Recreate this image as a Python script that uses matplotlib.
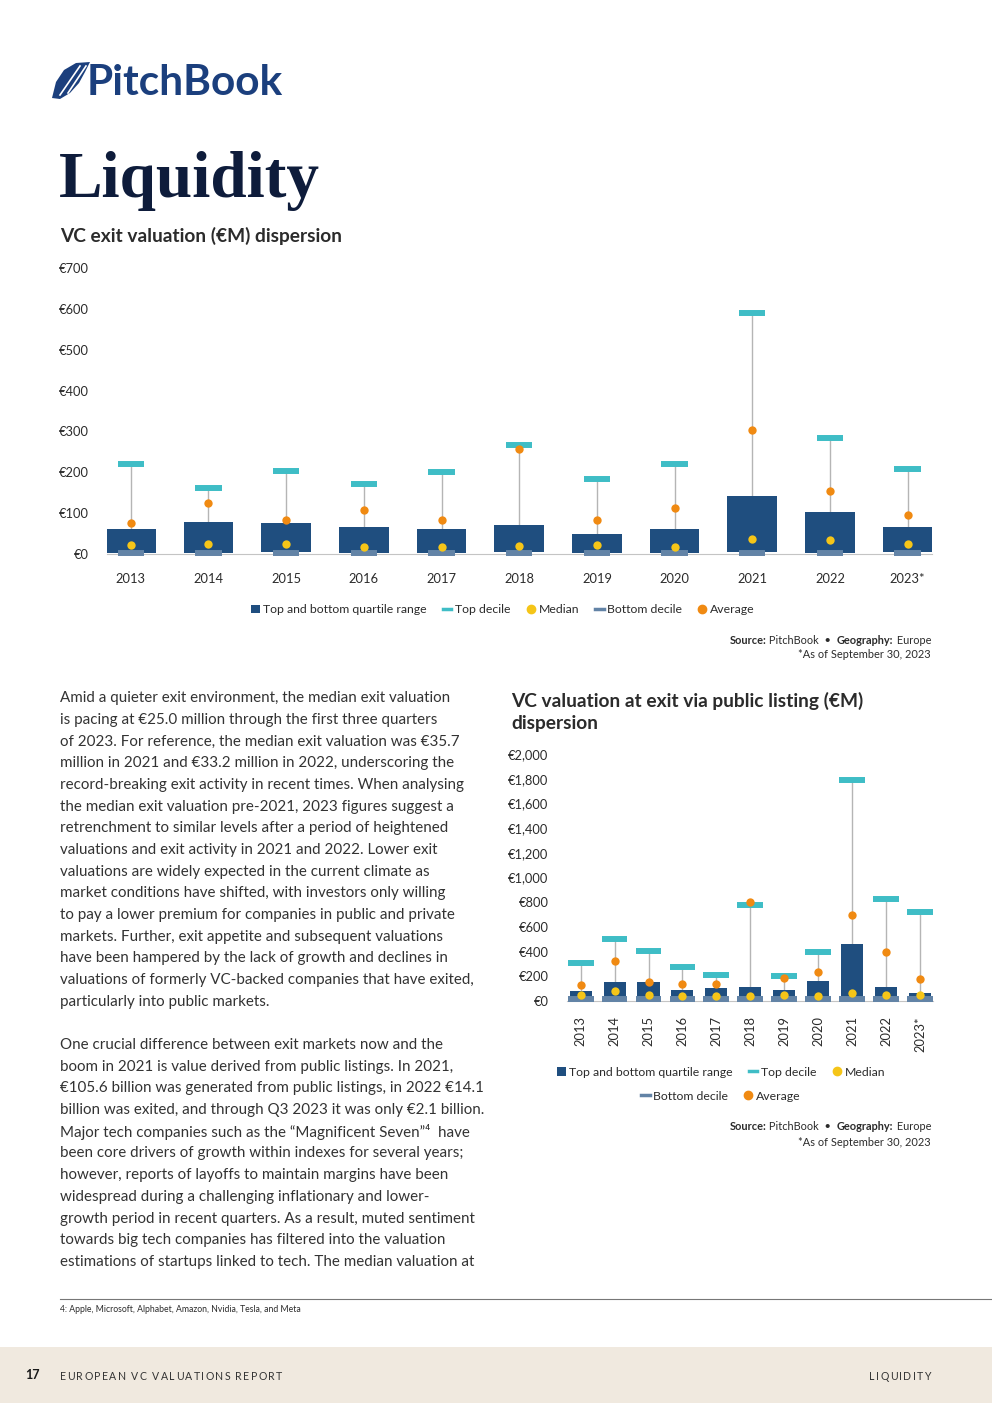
import matplotlib
matplotlib.use("Agg")
import matplotlib.pyplot as plt
from matplotlib.patches import Rectangle, Polygon, Patch
from matplotlib.lines import Line2D
import numpy as np

plt.rcParams['font.family'] = ['Lato', 'DejaVu Sans']

# ---- data: VC exit valuation (EUR M) dispersion ----
years = ['2013', '2014', '2015', '2016', '2017', '2018', '2019', '2020', '2021', '2022', '2023*']
exit_q1 = [3, 3, 6, 3, 3, 6, 3, 3, 6, 3, 6]
exit_q3 = [61, 78, 76, 66, 61, 71, 49, 61, 142, 103, 66]
exit_top_decile = [221, 162, 204, 172, 200, 268, 184, 221, 591, 284, 208]
exit_bottom_decile = [2, 2, 2, 2, 2, 2, 2, 2, 2, 2, 2]
exit_median = [21, 25, 25, 17, 17, 20, 21, 17, 35.7, 33.2, 25.0]
exit_average = [75, 126, 83, 108, 83, 258, 83, 113, 304, 155, 95]

# ---- data: VC valuation at exit via public listing (EUR M) dispersion ----
ipo_q1 = [25, 25, 25, 25, 25, 25, 25, 25, 25, 25, 25]
ipo_q3 = [81, 154, 154, 89, 105, 113, 89, 162, 462, 113, 65]
ipo_top_decile = [310, 502, 408, 275, 213, 780, 202, 397, 1792, 829, 718]
ipo_bottom_decile = [17, 17, 17, 17, 17, 17, 17, 17, 17, 17, 17]
ipo_median = [49, 78, 49, 38, 38, 38, 49, 38, 67, 49, 49]
ipo_average = [127, 321, 151, 140, 140, 804, 189, 235, 694, 394, 175]

exit_ticks = [0, 100, 200, 300, 400, 500, 600, 700]
ipo_ticks = list(range(0, 2001, 200))

BOX = '#1f4e7f'
TEAL = '#3fbdc6'
YELLOW = '#f5c518'
ORANGE = '#f08a12'
BOTDEC = '#6283a6'
WHISK = '#b5b5b5'
TXT = '#2b2b2b'

W, H = 992, 1403
fig = plt.figure(figsize=(W / 100, H / 100), dpi=100)
renderer = fig.canvas.get_renderer()


def fx(px):
    return px / W


def fy(py):
    return 1 - py / H


def text_width(t):
    return t.get_window_extent(renderer).width


def run_right(xr, yy, parts, **kw):
    # parts drawn right to left so the row ends at xr
    x = xr
    for s, weight in reversed(parts):
        t = fig.text(fx(x), fy(yy), s, ha='right', va='center', fontweight=weight, **kw)
        x -= text_width(t)


def tracked(x0, yy, s, track, align='left', **kw):
    # letter-spaced caps, one glyph at a time
    ts = [fig.text(0, fy(yy), c, ha='left', va='center', **kw) for c in s]
    ws = [text_width(t) for t in ts]
    total = sum(ws) + track * (len(s) - 1)
    x = x0 if align == 'left' else x0 - total
    for t, w in zip(ts, ws):
        t.set_x(fx(x))
        x += w + track


def dispersion(ax, q1, q3, top, bot, med, avg, ticks, ylim, xlim, box_w, mark_w, rot):
    x = np.arange(len(years))
    ax.vlines(x, np.array(q3), top, color=WHISK, lw=1, zorder=1)
    ax.bar(x, np.array(q3) - np.array(q1), bottom=q1, width=box_w, color=BOX, zorder=2)
    ax.hlines(top, x - mark_w, x + mark_w, color=TEAL, lw=4.3, zorder=3)
    ax.hlines(bot, x - mark_w, x + mark_w, color=BOTDEC, lw=4.3, zorder=3, clip_on=False)
    ax.scatter(x, med, s=36, color=YELLOW, zorder=4, linewidths=0)
    ax.scatter(x, avg, s=36, color=ORANGE, zorder=4, linewidths=0)
    ax.set_xlim(*xlim)
    ax.set_ylim(*ylim)
    ax.set_yticks(ticks)
    ax.set_yticklabels(['€{:,}'.format(t) for t in ticks], fontsize=9.3, color=TXT)
    ax.set_xticks(x)
    ax.set_xticklabels(years, fontsize=9.3, color=TXT, rotation=rot)
    for s in ['top', 'right', 'left']:
        ax.spines[s].set_visible(False)
    ax.spines['bottom'].set_color('#c4c4c4')
    ax.tick_params(axis='both', length=0)
    ax.tick_params(axis='y', pad=13)
    ax.tick_params(axis='x', pad=14 if rot == 0 else 11)
    ax.patch.set_alpha(0)


# chart 1
ax1 = fig.add_axes([fx(106.7), fy(554), fx(931.7) - fx(106.7), fy(268) - fy(554)])
dispersion(ax1, exit_q1, exit_q3, exit_top_decile, exit_bottom_decile, exit_median, exit_average,
           exit_ticks, (0, 700), (-0.31, 10.31), 0.64, 0.17, 0)

# chart 2
ax2 = fig.add_axes([fx(566.7), fy(1001), fx(933.3) - fx(566.7), fy(754) - fy(1001)])
dispersion(ax2, ipo_q1, ipo_q3, ipo_top_decile, ipo_bottom_decile, ipo_median, ipo_average,
           ipo_ticks, (0, 2000), (-0.41, 10.39), 0.65, 0.38, 90)

# legends
h_box = Patch(facecolor=BOX, edgecolor='none', label='Top and bottom quartile range')
h_top = Line2D([], [], color=TEAL, lw=2.5, label='Top decile')
h_med = Line2D([], [], color=YELLOW, marker='o', lw=0, markersize=6, label='Median')
h_bot = Line2D([], [], color=BOTDEC, lw=2.5, label='Bottom decile')
h_avg = Line2D([], [], color=ORANGE, marker='o', lw=0, markersize=6, label='Average')
leg_kw = dict(frameon=False, fontsize=8.8, handlelength=0.7, handleheight=0.7, handletextpad=0.3,
              columnspacing=1.3, labelcolor=TXT)
fig.legend(handles=[h_box, h_top, h_med, h_bot, h_avg], loc='center', ncol=5,
           bbox_to_anchor=(fx(503), fy(610)), **leg_kw)
fig.legend(handles=[h_box, h_top, h_med], loc='center', ncol=3,
           bbox_to_anchor=(fx(721), fy(1072)), **leg_kw)
fig.legend(handles=[h_bot, h_avg], loc='center', ncol=2,
           bbox_to_anchor=(fx(721), fy(1096)), **leg_kw)

# source notes
for yy in (640, 1127):
    run_right(931, yy, [('Source:', 'bold'), (' PitchBook  •  ', 'normal'),
                        ('Geography:', 'bold'), (' Europe', 'normal')],
              fontsize=7.9, color=TXT)
    fig.text(fx(931), fy(yy + 15), '*As of September 30, 2023', ha='right', va='center',
             fontsize=7.9, color=TXT)

# header
fig.patches.append(Polygon([[fx(52), fy(98)], [fx(56), fy(82)], [fx(64), fy(70)], [fx(76), fy(63)],
                            [fx(90), fy(62)], [fx(85), fy(72)], [fx(79), fy(83)], [fx(70), fy(93)],
                            [fx(60), fy(99)]], closed=True, facecolor='#1b3f7d', edgecolor='none',
                           transform=fig.transFigure, figure=fig))
for a, b in [((60, 95), (80, 66)), ((68, 93), (86, 66))]:
    fig.lines.append(Line2D([fx(a[0]), fx(b[0])], [fy(a[1]), fy(b[1])], color='white', lw=1.2,
                            transform=fig.transFigure, figure=fig))
fig.text(fx(87), fy(83), 'PitchBook', fontsize=30.5, fontweight='bold', color='#1b3f7d',
         va='center', ha='left')
fig.text(fx(59), fy(197), 'Liquidity', fontsize=47, fontweight='bold', color='#0e1c3b',
         family='Liberation Serif', va='baseline', ha='left')
fig.text(fx(60), fy(236), 'VC exit valuation (€M) dispersion', fontsize=13.8, fontweight='bold',
         color=TXT, va='center', ha='left')
fig.text(fx(511), fy(712), 'VC valuation at exit via public listing (€M)\ndispersion', fontsize=13.8,
         fontweight='bold', color=TXT, va='center', ha='left', linespacing=1.38)

# body text
para1 = [
    'Amid a quieter exit environment, the median exit valuation',
    'is pacing at €25.0 million through the first three quarters',
    'of 2023. For reference, the median exit valuation was €35.7',
    'million in 2021 and €33.2 million in 2022, underscoring the',
    'record-breaking exit activity in recent times. When analysing',
    'the median exit valuation pre-2021, 2023 figures suggest a',
    'retrenchment to similar levels after a period of heightened',
    'valuations and exit activity in 2021 and 2022. Lower exit',
    'valuations are widely expected in the current climate as',
    'market conditions have shifted, with investors only willing',
    'to pay a lower premium for companies in public and private',
    'markets. Further, exit appetite and subsequent valuations',
    'have been hampered by the lack of growth and declines in',
    'valuations of formerly VC-backed companies that have exited,',
    'particularly into public markets.',
]
para2 = [
    'One crucial difference between exit markets now and the',
    'boom in 2021 is value derived from public listings. In 2021,',
    '€105.6 billion was generated from public listings, in 2022 €14.1',
    'billion was exited, and through Q3 2023 it was only €2.1 billion.',
    'Major tech companies such as the “Magnificent Seven”⁴  have',
    'been core drivers of growth within indexes for several years;',
    'however, reports of layoffs to maintain margins have been',
    'widespread during a challenging inflationary and lower-',
    'growth period in recent quarters. As a result, muted sentiment',
    'towards big tech companies has filtered into the valuation',
    'estimations of startups linked to tech. The median valuation at',
]
for i, line in enumerate(para1):
    fig.text(fx(60), fy(698 + i * 21.7), line, fontsize=10.9, color='#333333', va='center', ha='left')
for i, line in enumerate(para2):
    fig.text(fx(60), fy(1045 + i * 21.7), line, fontsize=10.9, color='#333333', va='center', ha='left')

# footnote
fig.lines.append(Line2D([fx(60), fx(992)], [fy(1299), fy(1299)], color='#777777', lw=0.8,
                        transform=fig.transFigure, figure=fig))
fig.text(fx(60), fy(1309), '4: Apple, Microsoft, Alphabet, Amazon, Nvidia, Tesla, and Meta',
         fontsize=6.2, color=TXT, va='center', ha='left')

# footer band
fig.patches.append(Rectangle((0, 0), 1, fy(1347), facecolor='#f0e9df', edgecolor='none',
                             transform=fig.transFigure, figure=fig, zorder=0))
fig.text(fx(25), fy(1375), '17', fontsize=9, fontweight='bold', color='#1a1a1a',
         va='center', ha='left')
tracked(60, 1376, 'EUROPEAN VC VALUATIONS REPORT', 1.35, fontsize=7.6, color='#333333')
tracked(931, 1376, 'LIQUIDITY', 1.35, align='right', fontsize=7.6, color='#333333')

fig.savefig('out.png', dpi=100)
